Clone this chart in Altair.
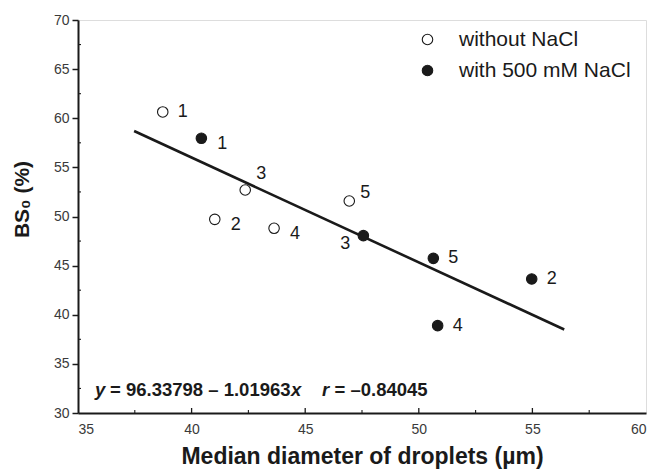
import altair as alt
import pandas as pd

# ---- data ----
open_x = [38.73, 41.02, 42.36, 43.63, 46.94]
open_y = [60.64, 49.71, 52.70, 48.80, 51.58]
open_labels = ["1", "2", "3", "4", "5"]
open_pos = ["right", "right-low", "above-right", "right-low", "upper-right"]

filled_x = [40.43, 54.97, 47.56, 50.83, 50.64]
filled_y = [57.96, 43.64, 48.05, 38.89, 45.74]
filled_labels = ["1", "2", "3", "4", "5"]
filled_pos = ["right-low", "right", "lower-left", "right", "right"]

groups = ["without NaCl", "with 500 mM NaCl"]

fit_x = [37.47, 56.40]
fit_y = [58.70, 38.50]

x_major = [35, 40, 45, 50, 55, 60]
x_minor = [37.5, 42.5, 47.5, 52.5, 57.5]
y_major = [30, 35, 40, 45, 50, 55, 60, 65, 70]
y_minor = [32.5, 37.5, 42.5, 47.5, 52.5, 57.5, 62.5, 67.5]

eq_parts = ["y", "= 96.33798 \u2013 1.01963", "x", "r", "= \u20130.84045"]
eq_italic = [True, False, True, True, False]

# ---- tables ----
pts = pd.DataFrame({
    "x": open_x + filled_x,
    "y": open_y + filled_y,
    "group": [groups[0]] * len(open_x) + [groups[1]] * len(filled_x),
    "label": open_labels + filled_labels,
    "pos": open_pos + filled_pos,
})
fit = pd.DataFrame({"x": fit_x, "y": fit_y})

W, H = 568, 393
FONT = "Liberation Sans"
INK = "#1a1a1a"

xs = alt.Scale(domain=[35, 60], nice=False, zero=False)
ys = alt.Scale(domain=[30, 70], nice=False, zero=False)

base = alt.Chart(pts)

xaxis = alt.Axis(values=x_major, format="d", ticks=False, tickSize=0, labelPadding=9,
                 labelFontSize=14, labelColor="#3a3a3a", labelFont=FONT,
                 domainColor=INK, domainWidth=2, grid=False,
                 title="Median diameter of droplets (\u00b5m)", titleFont=FONT,
                 titleFontSize=23, titleFontWeight="bold", titleColor=INK, titlePadding=9)
yaxis = alt.Axis(values=y_major, format="d", tickSize=6, tickWidth=1.5, tickColor=INK,
                 labelPadding=3, labelFontSize=14, labelColor="#3a3a3a", labelFont=FONT,
                 domainColor=INK, domainWidth=2, grid=False,
                 title="BS\u2080 (%)", titleFont=FONT, titleFontSize=21,
                 titleFontWeight="bold", titleColor=INK, titlePadding=21, titleY=179)

line = alt.Chart(fit).mark_line(color=INK, strokeWidth=2.6).encode(
    x=alt.X("x:Q", scale=xs, axis=xaxis),
    y=alt.Y("y:Q", scale=ys, axis=yaxis),
)

points = base.mark_point(filled=False, shape="circle", size=110, strokeWidth=1.1, stroke=INK, opacity=1).encode(
    x=alt.X("x:Q", scale=xs),
    y=alt.Y("y:Q", scale=ys),
    fill=alt.Fill("group:N", scale=alt.Scale(domain=groups, range=["white", INK]),
                  legend=alt.Legend(orient="none", legendX=339, legendY=9, title=None,
                                    padding=0, labelFontSize=21, labelFont=FONT,
                                    labelColor=INK, labelOffset=21, rowPadding=9,
                                    labelLimit=400,
                                    symbolSize=110, symbolType="circle",
                                    symbolStrokeColor=INK, symbolStrokeWidth=1.1)),
)

offsets = {
    "right": (20, 0),
    "right-low": (21, 6),
    "above-right": (16, -16),
    "upper-right": (16, -8),
    "lower-left": (-18, 8),
}
label_layers = []
for key, (dx, dy) in offsets.items():
    label_layers.append(
        base.transform_filter(alt.datum.pos == key).mark_text(
            dx=dx, dy=dy, fontSize=18, font=FONT, color=INK, align="center", baseline="middle"
        ).encode(x=alt.X("x:Q", scale=xs), y=alt.Y("y:Q", scale=ys), text="label:N")
    )

# inward ticks
tick_df_x = pd.DataFrame({"v": x_major[1:-1] + x_minor,
                          "len": ["major"] * (len(x_major) - 2) + ["minor"] * len(x_minor)})
xt_major = alt.Chart(tick_df_x).transform_filter(alt.datum.len == "major").mark_rule(
    color=INK, strokeWidth=1.3).encode(x=alt.X("v:Q", scale=xs), y=alt.value(H), y2=alt.value(H - 5))
xt_minor = alt.Chart(tick_df_x).transform_filter(alt.datum.len == "minor").mark_rule(
    color=INK, strokeWidth=1.1).encode(x=alt.X("v:Q", scale=xs), y=alt.value(H), y2=alt.value(H - 3))
yt_minor = alt.Chart(pd.DataFrame({"v": y_minor})).mark_rule(color=INK, strokeWidth=1.1).encode(
    y=alt.Y("v:Q", scale=ys), x=alt.value(0), x2=alt.value(3))

# equation annotation
eq_x = [17, 32, 213, 244, 256.5]
eq_layers = []
for txt, it, px in zip(eq_parts, eq_italic, eq_x):
    eq_layers.append(
        alt.Chart(pd.DataFrame({"t": [txt]})).mark_text(
            align="left", baseline="alphabetic", fontSize=18.5, font=FONT, fontWeight="bold",
            fontStyle="italic" if it else "normal", color=INK
        ).encode(x=alt.value(px), y=alt.value(376), text="t:N")
    )

chart = alt.layer(line, xt_major, xt_minor, yt_minor, points, *label_layers, *eq_layers).properties(
    width=W, height=H,
    autosize=alt.AutoSizeParams(type="none"),
    padding={"left": 70, "top": 12, "right": 1, "bottom": 59},
).configure_view(stroke=INK, strokeWidth=1.5).configure(background="white")

chart.save("out.html", embed_options={"renderer": "svg", "actions": False})
